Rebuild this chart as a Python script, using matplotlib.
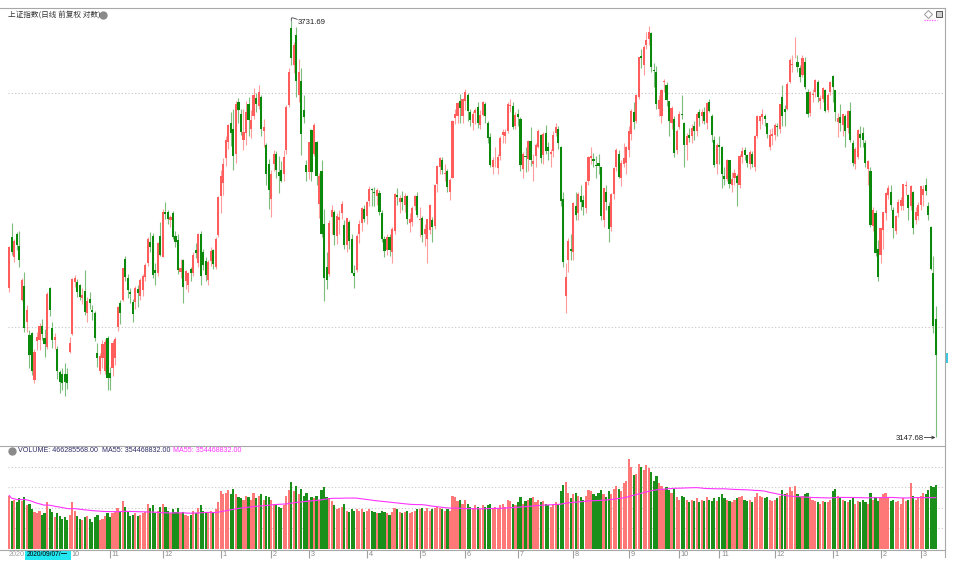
import numpy as np
import pandas as pd
import matplotlib
matplotlib.use('Agg')
import matplotlib.pyplot as plt
from matplotlib.lines import Line2D
from matplotlib.patches import Rectangle

# daily bars, 2020-08-28 .. 2022-03-09 (one row per month)
opens = [
    3346, 3416,
    3389, 3420, 3404, 3330, 3349, 3300, 3282, 3285, 3222, 3274, 3276, 3294, 3278, 3266, 3346, 3292, 3275, 3263, 3233, 3231, 3231, 3230,
    3260, 3284, 3354, 3354, 3350, 3332, 3342, 3312, 3331, 3316, 3312, 3258, 3235, 3252, 3234, 3278,
    3232, 3239, 3251, 3293, 3326, 3330, 3386, 3360, 3340, 3327, 3327, 3345, 3335, 3343, 3361, 3380, 3409, 3418, 3371, 3366, 3418,
    3389, 3452, 3452, 3440, 3450, 3418, 3412, 3368, 3384, 3355, 3350, 3372, 3366, 3398, 3380, 3421, 3395, 3383, 3357, 3383, 3398, 3375, 3419,
    3474, 3492, 3529, 3552, 3580, 3570, 3534, 3610, 3592, 3554, 3565, 3608, 3571, 3590, 3616, 3605, 3617, 3567, 3547, 3520,
    3470, 3520, 3535, 3508, 3511, 3505, 3540, 3606, 3721, 3665, 3710, 3621, 3641, 3598, 3518,
    3508, 3569, 3535, 3552, 3463, 3510, 3434, 3375, 3365, 3445, 3452, 3418, 3440, 3450, 3433, 3405, 3438, 3413, 3366, 3370, 3420, 3436, 3456,
    3446, 3467, 3484, 3480, 3474, 3479, 3450, 3413, 3398, 3416, 3395, 3425, 3476, 3465, 3472, 3462, 3474, 3436, 3438, 3460, 3474,
    3440, 3443, 3420, 3413, 3426, 3440, 3432, 3491, 3515, 3525, 3505, 3510, 3480, 3500, 3587, 3589, 3612, 3589,
    3612, 3620, 3595, 3579, 3594, 3603, 3577, 3591, 3607, 3580, 3559, 3515, 3525, 3514, 3532, 3562, 3560, 3567, 3605, 3605, 3575,
    3592, 3585, 3512, 3532, 3527, 3553, 3520, 3531, 3545, 3562, 3533, 3565, 3545, 3535, 3538, 3565, 3570, 3545, 3470, 3335, 3385, 3400,
    3395, 3460, 3450, 3474, 3468, 3457, 3495, 3528, 3527, 3518, 3521, 3515, 3440, 3480, 3460, 3430, 3477, 3515, 3535, 3500, 3520, 3522,
    3540, 3563, 3595, 3583, 3618, 3678, 3665, 3695, 3704, 3713, 3657, 3655, 3600, 3590, 3640, 3635, 3611, 3580, 3585, 3540,
    3573, 3593, 3580, 3547, 3562, 3560, 3575, 3567, 3595, 3590, 3595, 3580, 3610, 3590, 3555, 3520,
    3547, 3545, 3502, 3498, 3525, 3490, 3500, 3503, 3490, 3530, 3540, 3533, 3520, 3535, 3515, 3561, 3583, 3588, 3590, 3580, 3545, 3560,
    3562, 3575, 3570, 3618, 3600, 3600, 3640, 3665, 3681, 3670, 3660, 3650, 3670, 3625, 3594, 3620, 3625, 3640, 3612, 3615, 3628, 3598, 3625,
    3649, 3628, 3581, 3588, 3577, 3590, 3572, 3597, 3550, 3520, 3530, 3563, 3565, 3550, 3512, 3510, 3432, 3450, 3400,
    3391, 3426, 3450, 3476, 3480, 3455, 3425, 3450, 3460, 3460, 3488, 3475, 3460, 3480, 3440, 3446,
    3462, 3476, 3490, 3460, 3430, 3367, 3304,
]
highs = [
    3404, 3436,
    3413, 3424, 3425, 3360, 3368, 3323, 3289, 3287, 3263, 3286, 3298, 3304, 3291, 3340, 3348, 3300, 3285, 3268, 3236, 3239, 3245, 3239,
    3279, 3360, 3364, 3358, 3352, 3346, 3371, 3334, 3340, 3323, 3315, 3272, 3258, 3276, 3277, 3281,
    3240, 3276, 3280, 3322, 3329, 3374, 3390, 3365, 3346, 3331, 3349, 3350, 3360, 3365, 3380, 3416, 3423, 3422, 3380, 3409, 3437,
    3456, 3465, 3455, 3448, 3453, 3425, 3420, 3386, 3386, 3370, 3368, 3375, 3395, 3408, 3422, 3425, 3400, 3388, 3384, 3402, 3400, 3416, 3474,
    3511, 3528, 3560, 3578, 3595, 3600, 3611, 3616, 3600, 3600, 3612, 3617, 3598, 3631, 3623, 3635, 3620, 3585, 3550, 3527,
    3511, 3540, 3538, 3532, 3524, 3540, 3606, 3660, 3731.69, 3700, 3722, 3674, 3660, 3620, 3526,
    3552, 3570, 3580, 3553, 3507, 3525, 3456, 3395, 3440, 3462, 3455, 3450, 3455, 3467, 3440, 3443, 3440, 3420, 3378, 3421, 3440, 3458, 3462,
    3467, 3488, 3486, 3487, 3485, 3482, 3455, 3418, 3420, 3420, 3430, 3478, 3486, 3475, 3481, 3478, 3475, 3450, 3460, 3475, 3480,
    3458, 3446, 3435, 3442, 3463, 3445, 3491, 3519, 3530, 3530, 3520, 3513, 3500, 3584, 3600, 3610, 3622, 3616,
    3630, 3623, 3600, 3597, 3601, 3610, 3598, 3611, 3610, 3583, 3565, 3530, 3545, 3535, 3560, 3570, 3570, 3610, 3615, 3610, 3595,
    3600, 3588, 3537, 3545, 3555, 3573, 3535, 3550, 3570, 3563, 3566, 3576, 3552, 3542, 3568, 3580, 3575, 3546, 3480, 3380, 3415, 3420,
    3465, 3480, 3480, 3490, 3475, 3495, 3531, 3545, 3536, 3532, 3535, 3516, 3486, 3490, 3465, 3478, 3515, 3543, 3540, 3525, 3550, 3546,
    3575, 3600, 3610, 3622, 3677, 3690, 3695, 3715, 3724, 3715, 3668, 3663, 3620, 3630, 3645, 3640, 3612, 3605, 3590, 3570,
    3597, 3620, 3581, 3565, 3572, 3578, 3582, 3596, 3600, 3600, 3603, 3610, 3615, 3592, 3560, 3550,
    3560, 3546, 3515, 3527, 3525, 3508, 3512, 3505, 3535, 3545, 3545, 3535, 3540, 3538, 3562, 3591, 3590, 3600, 3592, 3580, 3570, 3572,
    3580, 3580, 3608, 3635, 3606, 3640, 3675, 3680, 3708, 3680, 3665, 3680, 3677, 3630, 3626, 3630, 3645, 3643, 3620, 3632, 3630, 3624, 3642,
    3651, 3628, 3594, 3607, 3593, 3592, 3598, 3610, 3555, 3545, 3570, 3575, 3573, 3555, 3525, 3515, 3458, 3455, 3412,
    3429, 3452, 3480, 3490, 3490, 3458, 3447, 3470, 3473, 3491, 3495, 3477, 3490, 3481, 3458, 3465,
    3489, 3490, 3500, 3465, 3432, 3390, 3321,
]
lows = [
    3340, 3392,
    3382, 3398, 3375, 3328, 3286, 3286, 3239, 3229, 3218, 3262, 3262, 3276, 3253, 3264, 3308, 3265, 3264, 3224, 3206, 3209, 3202, 3211,
    3258, 3282, 3348, 3334, 3330, 3324, 3309, 3300, 3317, 3303, 3274, 3240, 3230, 3238, 3230, 3209,
    3210, 3228, 3242, 3288, 3297, 3328, 3355, 3333, 3325, 3300, 3318, 3320, 3330, 3335, 3355, 3376, 3395, 3360, 3350, 3362, 3390,
    3388, 3441, 3434, 3430, 3413, 3402, 3365, 3359, 3325, 3345, 3340, 3355, 3362, 3387, 3375, 3350, 3370, 3355, 3350, 3376, 3372, 3372, 3417,
    3450, 3475, 3517, 3541, 3546, 3511, 3522, 3580, 3562, 3540, 3548, 3560, 3558, 3585, 3595, 3600, 3560, 3545, 3490, 3456,
    3444, 3510, 3500, 3478, 3494, 3495, 3535, 3603, 3665, 3653, 3618, 3610, 3533, 3580, 3496,
    3498, 3496, 3532, 3490, 3443, 3417, 3328, 3345, 3362, 3420, 3405, 3406, 3420, 3441, 3400, 3395, 3400, 3366, 3346, 3368, 3408, 3425, 3437,
    3434, 3460, 3460, 3460, 3462, 3448, 3410, 3388, 3392, 3390, 3380, 3420, 3461, 3450, 3455, 3452, 3435, 3423, 3432, 3455, 3444,
    3416, 3410, 3404, 3380, 3420, 3410, 3428, 3480, 3505, 3505, 3496, 3480, 3469, 3500, 3578, 3580, 3580, 3579,
    3598, 3582, 3575, 3569, 3578, 3572, 3570, 3590, 3580, 3550, 3515, 3506, 3515, 3505, 3525, 3550, 3550, 3565, 3595, 3570, 3570,
    3575, 3510, 3500, 3508, 3510, 3517, 3495, 3515, 3543, 3521, 3520, 3535, 3525, 3515, 3530, 3560, 3542, 3460, 3375, 3312, 3368, 3385,
    3385, 3440, 3440, 3455, 3447, 3450, 3490, 3520, 3515, 3500, 3505, 3440, 3430, 3455, 3410, 3425, 3470, 3510, 3500, 3488, 3515, 3505,
    3530, 3555, 3570, 3580, 3615, 3660, 3650, 3690, 3695, 3655, 3632, 3600, 3590, 3580, 3625, 3605, 3560, 3570, 3530, 3535,
    3570, 3585, 3515, 3525, 3552, 3550, 3555, 3560, 3575, 3580, 3578, 3570, 3595, 3552, 3515, 3505,
    3520, 3485, 3490, 3495, 3485, 3480, 3490, 3460, 3485, 3522, 3525, 3515, 3512, 3515, 3510, 3557, 3570, 3578, 3575, 3558, 3540, 3548,
    3555, 3560, 3565, 3575, 3575, 3598, 3638, 3655, 3675, 3655, 3640, 3648, 3630, 3588, 3590, 3610, 3618, 3610, 3600, 3610, 3595, 3595, 3620,
    3610, 3583, 3559, 3568, 3560, 3545, 3565, 3552, 3517, 3512, 3527, 3545, 3545, 3515, 3490, 3430, 3425, 3390, 3355,
    3380, 3400, 3440, 3470, 3455, 3415, 3420, 3445, 3455, 3455, 3475, 3440, 3455, 3420, 3435, 3440,
    3455, 3460, 3475, 3440, 3370, 3285, 3147.68,
]
closes = [
    3403, 3396,
    3411, 3405, 3385, 3357, 3292, 3316, 3255, 3235, 3259, 3279, 3294, 3284, 3270, 3338, 3316, 3275, 3279, 3235, 3220, 3218, 3220, 3218,
    3271, 3358, 3360, 3341, 3334, 3337, 3313, 3328, 3325, 3313, 3278, 3251, 3254, 3270, 3273, 3225,
    3225, 3272, 3277, 3320, 3312, 3373, 3361, 3343, 3338, 3310, 3346, 3339, 3357, 3363, 3377, 3414, 3402, 3364, 3366, 3408, 3392,
    3451, 3449, 3442, 3444, 3416, 3410, 3371, 3373, 3347, 3369, 3367, 3366, 3391, 3394, 3421, 3362, 3378, 3364, 3382, 3397, 3379, 3414, 3473,
    3503, 3520, 3555, 3577, 3565, 3531, 3608, 3598, 3566, 3566, 3596, 3584, 3584, 3621, 3607, 3625, 3570, 3574, 3505, 3483,
    3506, 3535, 3511, 3503, 3496, 3530, 3603, 3655, 3675, 3696, 3642, 3655, 3564, 3588, 3509,
    3551, 3508, 3576, 3503, 3502, 3421, 3359, 3357, 3436, 3454, 3419, 3446, 3445, 3463, 3405, 3443, 3411, 3367, 3363, 3418, 3435, 3457, 3441,
    3466, 3484, 3482, 3479, 3482, 3451, 3413, 3397, 3417, 3399, 3427, 3477, 3473, 3472, 3465, 3474, 3441, 3442, 3457, 3474, 3447,
    3441, 3419, 3428, 3441, 3462, 3430, 3490, 3517, 3529, 3511, 3507, 3487, 3497, 3582, 3593, 3609, 3601, 3615,
    3625, 3597, 3584, 3592, 3599, 3580, 3591, 3610, 3589, 3557, 3518, 3525, 3525, 3530, 3557, 3566, 3566, 3607, 3606, 3574, 3591,
    3588, 3518, 3534, 3530, 3553, 3525, 3524, 3548, 3567, 3528, 3564, 3539, 3539, 3537, 3562, 3574, 3550, 3467, 3382, 3361, 3411, 3397,
    3464, 3447, 3477, 3466, 3458, 3494, 3530, 3532, 3524, 3517, 3517, 3446, 3485, 3465, 3427, 3477, 3514, 3540, 3501, 3522, 3528, 3544,
    3567, 3597, 3581, 3621, 3677, 3676, 3693, 3703, 3715, 3662, 3656, 3607, 3613, 3628, 3642, 3613, 3582, 3602, 3536, 3568,
    3592, 3591, 3547, 3561, 3558, 3572, 3568, 3593, 3587, 3595, 3582, 3609, 3597, 3562, 3518, 3547,
    3545, 3506, 3498, 3526, 3491, 3499, 3507, 3492, 3532, 3539, 3533, 3521, 3537, 3520, 3560, 3589, 3589, 3592, 3585, 3564, 3562, 3564,
    3576, 3573, 3608, 3589, 3595, 3637, 3673, 3666, 3682, 3662, 3648, 3675, 3632, 3593, 3625, 3622, 3643, 3618, 3616, 3631, 3597, 3620, 3640,
    3632, 3595, 3586, 3580, 3593, 3567, 3597, 3555, 3521, 3541, 3569, 3558, 3555, 3522, 3524, 3433, 3455, 3394, 3361,
    3429, 3452, 3479, 3485, 3462, 3429, 3446, 3465, 3468, 3491, 3490, 3457, 3489, 3429, 3451, 3462,
    3488, 3484, 3481, 3447, 3372, 3294, 3256,
]
# volume in 1e8 (hands)
volumes = [
    3.9, 3.5,
    3.6, 3.4, 3.7, 3.5, 3.8, 3.2, 3.3, 2.9, 2.7, 2.6, 2.8, 2.5, 2.6, 3.4, 2.9, 2.7, 2.3, 2.6, 2.4, 2.2, 2.3, 2.1,
    2.5, 3.4, 2.8, 2.4, 2.2, 2.1, 2.3, 2.4, 2.2, 2.0, 2.3, 2.5, 2.1, 2.2, 2.4, 2.6,
    2.3, 2.6, 2.7, 3.0, 2.8, 3.5, 3.1, 2.7, 2.4, 2.5, 2.6, 2.4, 2.5, 2.6, 2.7, 3.3, 3.0, 3.2, 2.6, 2.8, 3.1,
    3.3, 3.1, 2.8, 2.6, 2.9, 2.7, 3.0, 2.6, 2.7, 2.5, 2.4, 2.5, 2.8, 2.6, 3.0, 3.2, 2.8, 2.6, 2.7, 2.8, 2.6, 2.9, 3.4,
    4.2, 4.0, 4.1, 4.3, 4.0, 4.4, 4.0, 3.8, 3.7, 3.6, 3.9, 3.8, 3.6, 4.1, 3.7, 3.9, 4.0, 3.6, 3.9, 3.8,
    3.6, 3.3, 3.2, 3.1, 3.0, 3.2, 3.9, 4.3, 4.9, 4.2, 4.6, 4.0, 4.4, 3.9, 4.1,
    3.6, 3.8, 3.7, 3.9, 3.6, 4.3, 4.5, 3.8, 3.7, 3.5, 3.2, 2.9, 3.0, 3.1, 3.3, 2.8, 2.7, 2.9, 2.8, 2.9, 2.8, 2.9, 2.7,
    2.8, 2.9, 2.8, 2.7, 2.6, 2.6, 2.8, 2.7, 2.6, 2.5, 2.7, 3.0, 2.9, 2.7, 2.6, 2.7, 2.8, 2.6, 2.7, 2.8, 2.9,
    2.9, 3.0, 2.8, 3.0, 2.8, 2.9, 3.0, 3.1, 3.0, 2.9, 2.8, 2.9, 2.8, 3.9, 3.8, 3.5, 3.6, 3.3,
    3.6, 3.3, 3.1, 3.0, 3.2, 3.1, 2.9, 3.2, 3.1, 3.2, 3.3, 3.0, 3.1, 3.0, 3.2, 3.3, 3.1, 3.6, 3.5, 3.3, 3.2,
    3.4, 3.8, 3.3, 3.5, 3.6, 3.7, 3.8, 3.4, 3.6, 3.4, 3.5, 3.3, 3.2, 3.1, 3.3, 3.4, 3.3, 4.2, 4.7, 4.9, 4.1, 3.7,
    4.0, 4.1, 3.9, 3.8, 3.6, 3.9, 4.3, 4.2, 4.0, 3.9, 4.1, 4.3, 4.0, 3.8, 4.2, 4.0, 4.4, 4.6, 4.4, 4.2, 4.8, 5.0,
    6.6, 6.0, 5.4, 5.5, 6.2, 6.0, 5.8, 6.1, 5.9, 5.6, 5.0, 5.3, 4.8, 4.6, 4.4, 4.5, 4.3, 4.1, 4.4, 3.8,
    3.6, 3.9, 3.8, 3.6, 3.4, 3.6, 3.5, 3.7, 3.4, 3.6, 3.5, 3.8, 3.6, 3.5, 3.7, 3.5,
    3.8, 4.0, 3.7, 3.6, 3.5, 3.4, 3.6, 3.7, 3.8, 3.9, 3.6, 3.5, 3.6, 3.4, 3.8, 4.1, 3.9, 3.8, 3.7, 3.8, 3.6, 3.5,
    3.6, 3.7, 3.9, 4.3, 4.0, 4.1, 4.5, 4.2, 4.6, 4.0, 3.8, 3.9, 4.0, 4.1, 3.7, 3.6, 3.5, 3.4, 3.3, 3.5, 3.4, 3.4, 3.6,
    4.2, 4.4, 3.9, 3.7, 3.6, 3.5, 3.4, 3.6, 3.7, 3.3, 3.5, 3.4, 3.6, 3.4, 3.3, 4.1, 3.6, 3.8, 3.5,
    3.8, 4.0, 4.1, 3.8, 3.5, 3.6, 3.4, 3.5, 3.3, 3.7, 3.5, 3.6, 4.8, 3.9, 3.6, 3.8,
    3.9, 4.1, 4.0, 4.3, 4.6, 4.5, 4.66285568,
]

month_starts = [24, 40, 61, 84, 104, 119, 142, 163, 181, 202, 224, 246, 266, 282, 304, 327, 346, 362]
month_labels = ['10', '11', '12', '1', '2', '3', '4', '5', '6', '7', '8', '9', '10', '11', '12', '1', '2', '3']
price_grid = [3293.1, 3623.8]
vol_grid = [1.5, 3.0, 4.5, 6.0]

title = '上证指数(日线 前复权 对数)'
vol_label = 'VOLUME: 466285568.00  MA55: 354468832.00'
ma_label = 'MA55: 354468832.00'
cursor_date = '2020/09/07/一'
first_year = '2020'

n = len(closes)
assert len(opens) == n and len(highs) == n and len(lows) == n and len(volumes) == n

W, H = 955, 570
def fx(px):
    return px / W
def fy(py):
    return 1 - py / H

cjk = ['Noto Sans CJK SC', 'DejaVu Sans']
up_body, up_wick = '#ff5c5c', '#ff9c9c'
dn_body, dn_wick = '#0a890a', '#7cbd7c'
line_gray = '#a8a8a8'

fig = plt.figure(figsize=(W / 100, H / 100), dpi=100)
xlim = (-0.715, 371.2)

# price panel
ax = fig.add_axes([fx(7.5), fy(445.5), fx(944) - fx(7.5), (445.5 - 8) / H])
ax.set_yscale('log')
ax.set_xlim(*xlim)
ax.set_ylim(3137.4, 3751.6)
for s in ax.spines.values():
    s.set_visible(False)
ax.set_xticks([])
ax.set_yticks([])
ax.set_yticks([], minor=True)

idx = np.arange(n)
o = np.array(opens, float)
h = np.array(highs, float)
l = np.array(lows, float)
c = np.array(closes, float)
up = c >= o
lo_b = np.minimum(o, c)
hgt = np.maximum(np.abs(c - o), 0.8)

ax.hlines(price_grid, xlim[0], xlim[1], colors='#c4c4c4', linestyles=(0, (1, 2)), lw=0.8, zorder=0)
ax.vlines(idx[up], l[up], h[up], color=up_wick, lw=0.8, zorder=1)
ax.vlines(idx[~up], l[~up], h[~up], color=dn_wick, lw=0.8, zorder=1)
ax.bar(idx[up], hgt[up], bottom=lo_b[up], width=0.84, color=up_body, linewidth=0, zorder=2)
ax.bar(idx[~up], hgt[~up], bottom=lo_b[~up], width=0.84, color=dn_body, linewidth=0, zorder=2)

hi_i = int(np.argmax(h))
hi = h[hi_i]
ax.plot([hi_i, hi_i, hi_i + 0.6, hi_i + 2.3], [hi, hi * 1.0012, hi * 1.0013, hi * 1.0007], color='#444444', lw=0.6)
ax.text(hi_i + 2.7, hi * 0.9994, '%.2f' % hi, fontsize=5.6, family='Liberation Sans', color='#222222', va='center', ha='left')

lo_i = int(np.argmin(l))
lo = l[lo_i]
ax.annotate('', xy=(lo_i - 0.2, lo), xytext=(lo_i - 4.6, lo),
            arrowprops=dict(arrowstyle='->', lw=0.6, color='#333333', shrinkA=0, shrinkB=0, mutation_scale=5))
ax.text(lo_i - 4.8, lo * 0.9994, '%.2f' % lo, fontsize=5.6, family='Liberation Sans', color='#222222', va='center', ha='right')

# volume panel
av = fig.add_axes([fx(7.5), fy(549), fx(944) - fx(7.5), (549 - 446) / H])
av.set_xlim(*xlim)
av.set_ylim(0, 7.52)
for s in av.spines.values():
    s.set_visible(False)
av.set_xticks([])
av.set_yticks([])
v = np.array(volumes)
av.hlines(vol_grid, xlim[0], xlim[1], colors='#c8c8c8', linestyles=(0, (1, 2)), lw=0.8, zorder=0)
av.bar(idx[up], v[up], width=0.86, color='#ff7878', linewidth=0, zorder=1)
av.bar(idx[~up], v[~up], width=0.86, color='#1a8f1a', linewidth=0, zorder=1)
ma55 = pd.Series(v).rolling(55, min_periods=1).mean()
av.plot(idx, ma55, color='#ff33ff', lw=0.8, zorder=3)

# date strip
ad = fig.add_axes([fx(7.5), 0, fx(944) - fx(7.5), fy(549.5)])
ad.set_xlim(*xlim)
ad.set_ylim(0, 20.5)
ad.axis('off')
ad.vlines(month_starts, 12.5, 20.5, colors='#a0a0a0', lw=0.8)
for m, lab in zip(month_starts, month_labels):
    ad.text(m + 0.7, 15, lab, fontsize=5.2, family='Liberation Sans', color='#8a8a8a', va='center', ha='left')

# frame lines
for y in (8, 445.5, 549.5):
    fig.add_artist(Line2D([0, fx(944.5)], [fy(y), fy(y)], color=line_gray, lw=0.8))
fig.add_artist(Line2D([fx(944.5), fx(944.5)], [fy(8), fy(557)], color=line_gray, lw=0.8))
fig.add_artist(Rectangle((fx(945.5), fy(363)), fx(2.5), 10 / H, color='#3cc8e0', lw=0))

# header texts and icons
fig.text(fx(8), fy(14.5), title, fontsize=5.5, family=cjk, color='#333333', va='center', ha='left')
fig.add_artist(Line2D([fx(102.5)], [fy(14.5)], marker='o', markersize=5, color='#8a8a8a', mec='#8a8a8a'))
fig.add_artist(Line2D([fx(11.5)], [fy(451)], marker='o', markersize=5, color='#8a8a8a', mec='#8a8a8a'))
fig.text(fx(18), fy(451), vol_label, fontsize=5.1, family='Liberation Sans', color='#2c2c66', va='center', ha='left')
fig.text(fx(172.5), fy(451), ma_label, fontsize=5.1, family='Liberation Sans', color='#ff33ff', va='center', ha='left')
fig.add_artist(Line2D([fx(928)], [fy(14)], marker='D', markersize=3.6, mfc='white', mec='#999999', mew=0.7))
fig.add_artist(Line2D([fx(939)], [fy(14)], marker='s', markersize=4.2, mfc='#d0d0d0', mec='#555555', mew=0.7))
fig.add_artist(Line2D([fx(924), fx(937)], [fy(19.5), fy(19.5)], color='#ff55ff', lw=0.9, linestyle=(0, (1, 1))))

fig.text(fx(9), fy(555), first_year, fontsize=5.2, family='Liberation Sans', color='#a0a0a0', va='center', ha='left')
fig.add_artist(Rectangle((fx(25), fy(559.5)), fx(45.7), 9 / H, color='#22e6f0', lw=0))
fig.text(fx(47.8), fy(555), cursor_date, fontsize=4.8, family=['Liberation Sans', 'Noto Sans CJK SC'], color='#000000', va='center', ha='center')

fig.savefig('out.png', dpi=100)
